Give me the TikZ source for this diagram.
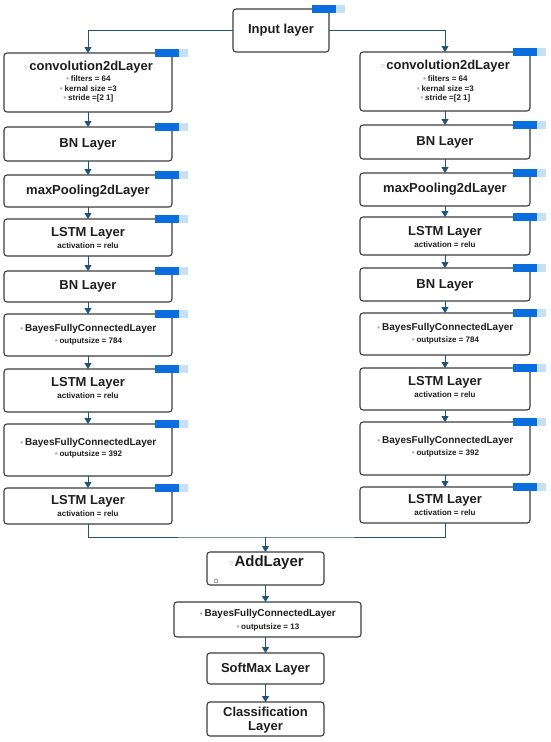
\documentclass[tikz,border=0pt]{standalone}
\usepackage{fontspec}
\setmainfont{Liberation Sans}
\newfontfamily\djv{DejaVu Sans}
\usetikzlibrary{arrows.meta}
\definecolor{conn}{RGB}{32,82,122}
\definecolor{tabd}{RGB}{10,110,225}
\definecolor{tabl}{RGB}{198,224,248}
\definecolor{txt}{RGB}{30,30,30}
\definecolor{bord}{RGB}{60,60,60}
\newcommand\tbul{{\djv\color{gray!85}\fontsize{9}{9}\selectfont ◦}\hspace{0.5pt}}
\newcommand\subul{{\djv\color{gray!60}\fontsize{7}{7}\selectfont •}\hspace{1pt}}
\tikzset{
  lbox/.style={draw=bord, line width=1.1pt, rounded corners=3pt, rectangle, inner sep=0pt, outer sep=0pt, fill=white},
  ttl/.style={font=\bfseries\fontsize{13}{15}\selectfont, text=txt, inner sep=0pt},
  ttlb/.style={font=\bfseries\fontsize{15}{17}\selectfont, text=txt, inner sep=0pt},
  ttls/.style={font=\bfseries\fontsize{10}{12}\selectfont, text=txt, inner sep=0pt},
  sub/.style={font=\bfseries\fontsize{8}{10}\selectfont, text=txt, inner sep=0pt, align=center},
  conn/.style={draw=conn, line width=1pt},
  arr/.style={conn, -{Triangle[width=7pt,length=6pt]}},
}
\newcommand\layerbox[5]{%
  \node[lbox, minimum width=#4pt-#2pt, minimum height=#5pt-#3pt, anchor=north west] (#1) at (#2,#3) {};}
\newcommand\tabon[1]{%
  \fill[tabd] ([shift={(-17pt,4pt)}]#1.north east) rectangle ([shift={(7pt,-4pt)}]#1.north east);
  \fill[tabl] ([shift={(7pt,4pt)}]#1.north east) rectangle ([shift={(16pt,-4pt)}]#1.north east);}
\begin{document}
\begin{tikzpicture}[x=1pt, y=-1pt]
\useasboundingbox[fill=white] (0,0) rectangle (550,742);

% ---------- input ----------
\layerbox{inp}{233}{9}{329}{52}
\tabon{inp}
\node[ttl] (t_inp) at (281,30.5) {Input layer};

% ---------- left column ----------
\layerbox{cL}{4}{53}{172}{112}
\layerbox{bnL1}{4}{127}{172}{161}
\layerbox{mpL}{4}{175}{172}{207}
\layerbox{lsL1}{4}{219}{172}{256}
\layerbox{bnL2}{4}{271}{172}{302}
\layerbox{byL1}{4}{314}{172}{356}
\layerbox{lsL2}{4}{369}{172}{412}
\layerbox{byL2}{4}{424}{172}{476}
\layerbox{lsL3}{4}{488}{172}{524}
\foreach \n in {cL,bnL1,mpL,lsL1,bnL2,byL1,lsL2,byL2,lsL3}{\tabon{\n}}

\node[ttl] (t_cL) at (88,67) {\tbul convolution2dLayer};
\node[sub] (s_cL) at (88,89) {\subul filters = 64\\[-0.5pt]\subul kernal size =3\\[-0.5pt]\subul stride =[2 1]};
\node[ttl] (t_bnL1) at (88,144) {BN Layer};
\node[ttl] (t_mpL) at (88,191) {maxPooling2dLayer};
\node[ttl] (t_lsL1) at (88,233) {LSTM Layer};
\node[sub] (s_lsL1) at (88,246) {activation = relu};
\node[ttl] (t_bnL2) at (88,286) {BN Layer};
\node[ttls] (t_byL1) at (88,329) {\subul BayesFullyConnectedLayer};
\node[sub] (s_byL1) at (88,341) {\subul outputsize = 784};
\node[ttl] (t_lsL2) at (88,383) {LSTM Layer};
\node[sub] (s_lsL2) at (88,396) {activation = relu};
\node[ttls] (t_byL2) at (88,443) {\subul BayesFullyConnectedLayer};
\node[sub] (s_byL2) at (88,454) {\subul outputsize = 392};
\node[ttl] (t_lsL3) at (88,501) {LSTM Layer};
\node[sub] (s_lsL3) at (88,514) {activation = relu};

% ---------- right column ----------
\layerbox{cR}{360}{52}{530}{111}
\layerbox{bnR1}{360}{125}{530}{159}
\layerbox{mpR}{360}{173}{530}{206}
\layerbox{lsR1}{360}{217}{530}{255}
\layerbox{bnR2}{360}{268}{530}{301}
\layerbox{byR1}{360}{313}{530}{355}
\layerbox{lsR2}{360}{368}{530}{410}
\layerbox{byR2}{360}{422}{530}{475}
\layerbox{lsR3}{360}{487}{530}{523}
\foreach \n in {cR,bnR1,mpR,lsR1,bnR2,byR1,lsR2,byR2,lsR3}{\tabon{\n}}

\node[ttl] (t_cR) at (445,66) {\tbul convolution2dLayer};
\node[sub] (s_cR) at (445,89) {\subul filters = 64\\[-0.5pt]\subul kernal size =3\\[-0.5pt]\subul stride =[2 1]};
\node[ttl] (t_bnR1) at (445,142) {BN Layer};
\node[ttl] (t_mpR) at (445,189) {maxPooling2dLayer};
\node[ttl] (t_lsR1) at (445,232) {LSTM Layer};
\node[sub] (s_lsR1) at (445,245) {activation = relu};
\node[ttl] (t_bnR2) at (445,285) {BN Layer};
\node[ttls] (t_byR1) at (445,328) {\subul BayesFullyConnectedLayer};
\node[sub] (s_byR1) at (445,340) {\subul outputsize = 784};
\node[ttl] (t_lsR2) at (445,382) {LSTM Layer};
\node[sub] (s_lsR2) at (445,395) {activation = relu};
\node[ttls] (t_byR2) at (445,441) {\subul BayesFullyConnectedLayer};
\node[sub] (s_byR2) at (445,453) {\subul outputsize = 392};
\node[ttl] (t_lsR3) at (445,500) {LSTM Layer};
\node[sub] (s_lsR3) at (445,513) {activation = relu};

% ---------- bottom ----------
\layerbox{add}{207}{552}{324}{585}
\node[ttlb] (t_add) at (266,563) {\tbul AddLayer};
\node[draw=gray!80, line width=0.8pt, circle, inner sep=0pt, minimum size=4pt] (d_add) at (216,581) {};
\layerbox{by3}{174}{602}{361}{637}
\node[ttls] (t_by3) at (267.5,614) {\subul BayesFullyConnectedLayer};
\node[sub] (s_by3) at (267.5,627) {\subul outputsize = 13};
\layerbox{smx}{207}{653}{324}{684}
\node[ttl] (t_smx) at (265.5,669) {SoftMax Layer};
\layerbox{cls}{207}{702}{324}{736}
\node[ttl, align=center] (t_cls) at (265.5,720.5) {Classification\\[-1pt]Layer};

% ---------- connectors ----------
\draw[arr] (inp.west) -| (cL.north);
\draw[arr] (inp.east) -| (cR.north);
\foreach \a/\b in {cL/bnL1,bnL1/mpL,mpL/lsL1,lsL1/bnL2,bnL2/byL1,byL1/lsL2,lsL2/byL2,byL2/lsL3,
                   cR/bnR1,bnR1/mpR,mpR/lsR1,lsR1/bnR2,bnR2/byR1,byR1/lsR2,lsR2/byR2,byR2/lsR3}{
  \draw[arr] (\a.south) -- (\b.north);}
\coordinate (mj) at (265.5,537);
\draw[conn] (lsL3.south) |- (mj) -| (lsR3.south);
\draw[arr] (mj) -- (add.north);
\draw[arr] (add.south) -- (add.south |- by3.north);
\draw[arr] (by3.south -| smx.north) -- (smx.north);
\draw[arr] (smx.south) -- (cls.north);
\end{tikzpicture}
\end{document}
